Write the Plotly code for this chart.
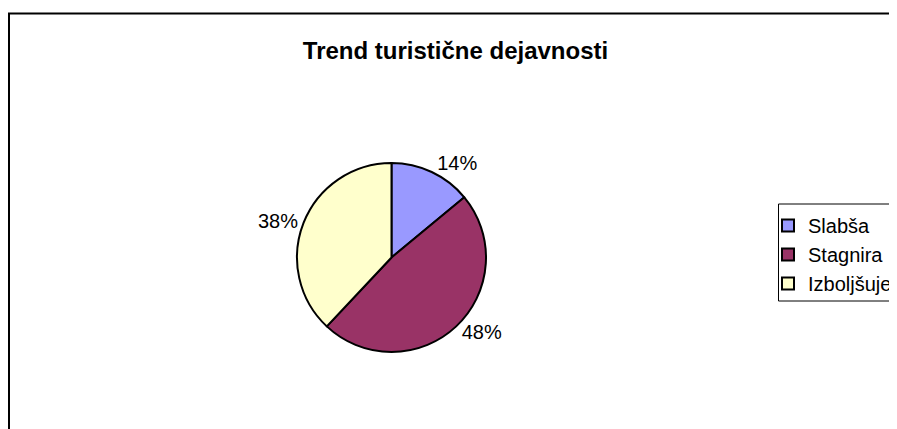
import plotly.graph_objects as go

# page body has an 8px margin; figure fills the rest of the 897x429 window
OFF = 8
W, H = 897 - OFF, 429 - OFF


def px(x):
    return (x - OFF) / W


def py(y):
    return 1 - (y - OFF) / H


categories = ["Slabša", "Stagnira", "Izboljšuje"]
values = [14, 48, 38]
colors = ["#9999FF", "#993366", "#FFFFCC"]
title_text = "Trend turistične dejavnosti"

FONT = "Liberation Sans, Arial, sans-serif"

fig = go.Figure(go.Pie(
    labels=categories,
    values=values,
    sort=False,
    direction="clockwise",
    rotation=0,
    marker=dict(colors=colors, line=dict(color="black", width=2)),
    texttemplate="%{percent:.0%}",
    textposition="outside",
    outsidetextfont=dict(family=FONT, size=20, color="black"),
    hoverinfo="label+percent",
    domain=dict(x=[px(297), px(486)], y=[py(352), py(163)]),
))

fig.update_layout(
    width=W, height=H,
    margin=dict(l=0, r=0, t=0, b=0),
    paper_bgcolor="white",
    font=dict(family=FONT, size=20, color="black"),
    title=dict(
        text="<b>" + title_text + "</b>",
        x=px(455.5), xanchor="center",
        y=py(51), yanchor="middle",
        font=dict(family=FONT, size=24, color="black"),
    ),
    legend=dict(
        x=px(768), xanchor="left",
        y=py(206), yanchor="top",
        bgcolor="rgba(0,0,0,0)", borderwidth=0,
        font=dict(family=FONT, size=20, color="black"),
        itemwidth=30,
    ),
    shapes=[
        dict(type="rect", xref="paper", yref="paper",
             x0=1 / W, x1=1.2, y0=-0.2, y1=py(13.5),
             line=dict(color="black", width=2), fillcolor="rgba(0,0,0,0)",
             layer="below"),
        dict(type="rect", xref="paper", yref="paper",
             x0=px(778.5), x1=1.2, y0=py(301), y1=py(204),
             line=dict(color="black", width=1), fillcolor="white",
             layer="below"),
    ],
)

fig.write_html("out.html")
